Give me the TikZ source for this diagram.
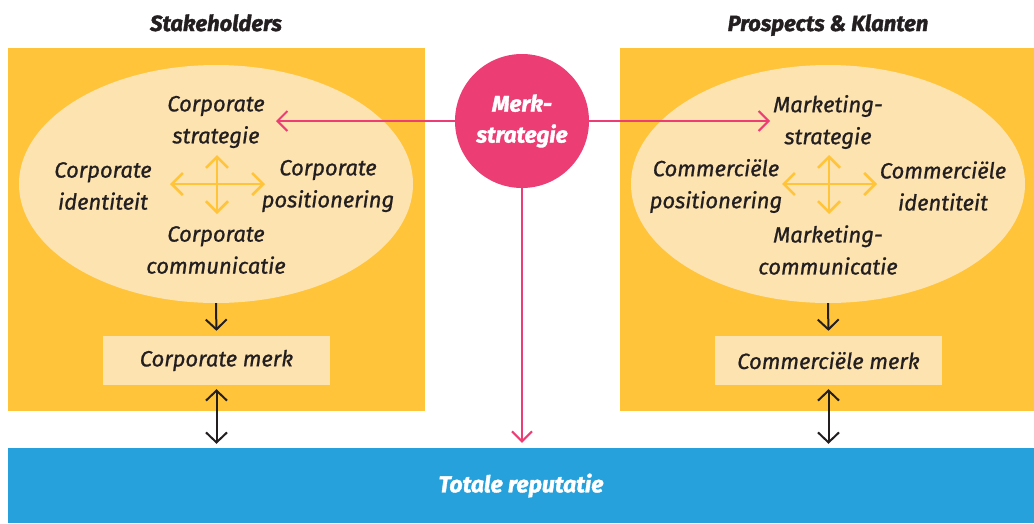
\documentclass[tikz,border=0pt]{standalone}
\usepackage{fontspec}
\setmainfont{Fira Sans}[ItalicFeatures={FakeBold=0.9}, BoldItalicFeatures={FakeBold=1.6}]
\usetikzlibrary{arrows.meta,shapes.geometric}
\definecolor{panel}{HTML}{FFC43A}
\definecolor{pale}{HTML}{FDE3B0}
\definecolor{barblue}{HTML}{27A1DB}
\definecolor{rose}{HTML}{EC3E75}
\definecolor{ink}{HTML}{231F20}
\tikzset{
  panelbox/.style={fill=panel, draw=none},
  cloud/.style={ellipse, fill=pale, draw=none, inner sep=0pt,
    minimum width=394pt, minimum height=238pt},
  label/.style={font=\fontsize{22}{32}\selectfont\itshape, text=ink,
    align=center, inner sep=0pt},
  title/.style={font=\fontsize{22}{26}\selectfont\bfseries\itshape, text=ink,
    inner sep=0pt, anchor=base},
  merkbox/.style={fill=pale, draw=none, minimum width=227pt, minimum height=49pt,
    inner sep=0pt, font=\fontsize{22}{26}\selectfont\itshape, text=ink},
  flow/.style={draw=ink, line width=2pt, -{Straight Barb[length=10pt,width=21pt]}},
  flowboth/.style={draw=ink, line width=2pt, {Straight Barb[length=10pt,width=21pt]}-{Straight Barb[length=10pt,width=21pt]}},
  cross/.style={draw=panel, line width=2.5pt, {Straight Barb[length=11pt,width=22pt]}-{Straight Barb[length=11pt,width=22pt]}},
  pinkflow/.style={draw=rose, line width=2pt, -{Straight Barb[length=10pt,width=20pt]}},
}
\begin{document}
\begin{tikzpicture}[x=1pt,y=-1pt]
\useasboundingbox (0,0) rectangle (1034,523);

% column titles
\node[title] (t1) at (216,31) {Stakeholders};
\node[title] (t2) at (828,31) {Prospects \& Klanten};

% panels
\fill[panelbox] (8,48) rectangle (425,411);
\fill[panelbox] (620,48) rectangle (1034,411);

% bottom bar
\node[fill=barblue, minimum width=1026pt, minimum height=75pt, inner sep=0pt,
  text=white, font=\fontsize{23}{26}\selectfont\bfseries\itshape] (rep) at (521,485.5) {Totale reputatie};

% left cloud
\node[cloud] (e1) at (216,184) {};
\node[label] (cs) at (216,122) {Corporate\\strategie};
\node[label] (ci) at (103,186) {Corporate\\identiteit};
\node[label] (cp) at (328,186) {Corporate\\positionering};
\node[label] (cc) at (216,250) {Corporate\\communicatie};
\draw[cross] (217,155) -- (217,214);
\draw[cross] (170,184) -- (265,184);

% right cloud
\node[cloud] (e2) at (828,184) {};
\node[label] (ms) at (828,122) {Marketing-\\strategie};
\node[label] (mp) at (716,186) {Commerciële\\positionering};
\node[label] (mi) at (943,186) {Commerciële\\identiteit};
\node[label] (mc) at (828,250) {Marketing-\\communicatie};
\draw[cross] (829,155) -- (829,214);
\draw[cross] (782,184) -- (877,184);

% brand boxes
\node[merkbox] (m1) at (216.5,360.5) {Corporate merk};
\node[merkbox] (m2) at (828.5,360.5) {Commerciële merk};

\draw[flow, shorten >=5pt] (e1.south) -- (m1.north);
\draw[flow, shorten >=5pt] (e2.south) -- (m2.north);
\draw[flowboth, shorten <=4pt, shorten >=4pt] (m1.south) -- (m1.south |- rep.north);
\draw[flowboth, shorten <=4pt, shorten >=4pt] (m2.south) -- (m2.south |- rep.north);

% brand strategy hub
\coordinate (hub) at (522,121);
\coordinate (toleft) at (276,121);
\coordinate (toright) at (770,121);
\draw[pinkflow] (hub) -- (toleft);
\draw[pinkflow] (hub) -- (toright);
\node[circle, fill=rose, minimum size=134pt, inner sep=0pt] (ms0) at (hub) {};
\node[text=white, align=center, inner sep=0pt,
  font=\fontsize{22.5}{31}\selectfont\bfseries\itshape] (mst) at (hub) {Merk-\\strategie};
\draw[pinkflow, shorten >=5pt] (ms0.south) -- (ms0.south |- rep.north);
\end{tikzpicture}
\end{document}
